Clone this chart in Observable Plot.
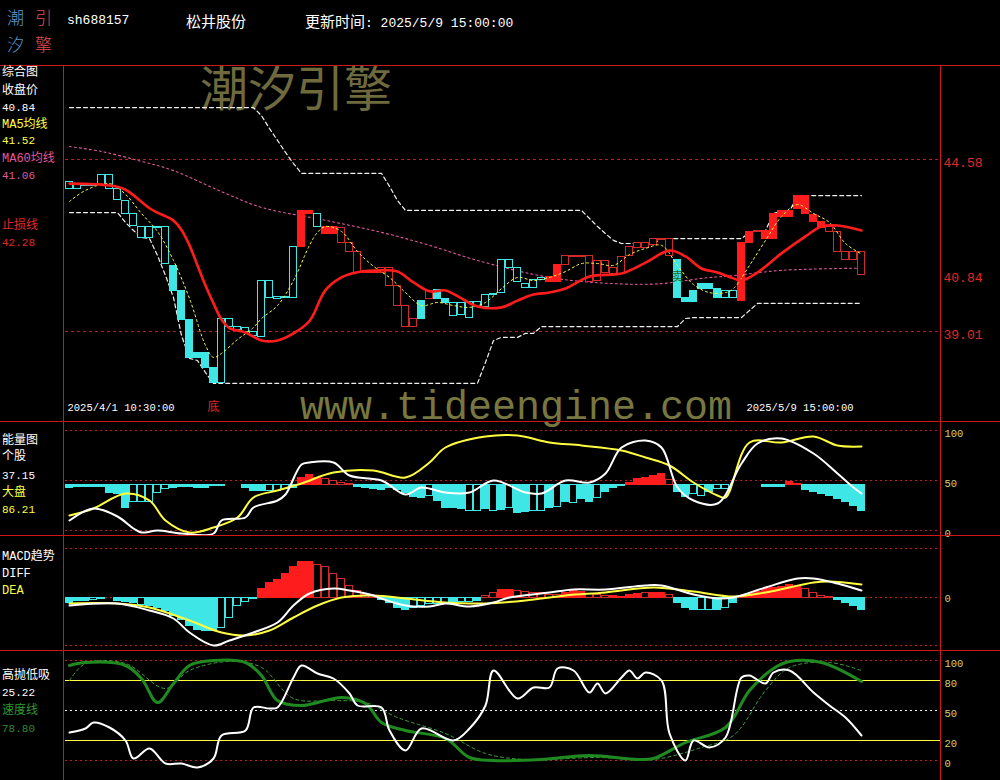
<!DOCTYPE html>
<html><head><meta charset="utf-8"><title>松井股份</title>
<script src="https://cdn.jsdelivr.net/npm/d3@7"></script>
<script src="https://cdn.jsdelivr.net/npm/@observablehq/plot@0.6"></script>
<style>
html,body{margin:0;padding:0;background:#000;}
#wrap{position:relative;width:1000px;height:780px;background:#000;overflow:hidden;}
.t{position:absolute;white-space:nowrap;font-family:"Liberation Mono","Noto Sans CJK SC",monospace;}
.pnl{position:absolute;left:0;}
.pnl svg{display:block;}
.hl{position:absolute;left:0;width:1000px;height:1px;background:#cc1818;}
.vl{position:absolute;top:65px;width:1px;height:715px;background:#cc1818;}
</style></head>
<body><div id="wrap"></div>
<script>
// ---------------- DATA ----------------
// 60-minute bars, 2025/4/1 10:30 .. 2025/5/9 15:00 (100 bars), body top/bottom prices
const bodyHigh = [43.84,43.80,43.80,43.80,44.09,44.09,43.61,43.25,42.80,42.38,
42.38,42.38,42.38,41.12,40.31,39.37,38.30,38.30,37.84,39.43,
39.43,39.14,39.11,38.98,40.66,40.66,40.14,40.14,41.73,42.90,
42.90,42.80,42.38,42.38,42.35,41.86,41.57,40.95,40.95,41.08,
41.08,40.47,39.82,39.43,40.01,40.31,40.34,40.05,39.92,39.92,
39.95,39.98,40.18,40.24,41.31,41.31,41.05,40.56,40.69,40.73,
40.76,41.15,41.44,41.44,41.44,41.47,41.28,41.28,41.05,41.41,
41.73,41.86,41.89,41.99,42.02,42.02,41.34,40.08,40.31,40.56,
40.56,40.37,40.31,40.31,41.86,42.22,42.28,42.28,42.83,42.90,
42.90,43.41,43.41,42.77,42.54,42.41,42.22,41.57,41.57,41.57];
const bodyLow = [43.64,43.61,43.71,43.71,43.77,43.64,43.28,42.83,42.44,42.05,
42.05,42.35,41.18,40.31,39.37,38.14,38.14,37.84,37.33,37.33,
39.14,39.07,38.98,38.85,38.82,40.08,40.05,40.11,40.11,41.76,
42.83,42.38,42.18,42.18,41.89,41.57,40.89,40.89,40.92,40.92,
40.47,39.82,39.17,39.17,39.43,40.05,40.05,39.92,39.50,39.53,
39.46,39.79,39.79,40.18,40.27,41.08,40.60,40.43,40.43,40.69,
40.60,40.60,41.15,41.41,41.41,40.60,40.63,40.89,40.86,40.86,
41.47,41.70,41.70,41.80,41.96,41.44,40.08,39.95,39.95,40.37,
40.40,40.11,40.11,40.08,40.01,41.86,42.22,42.02,42.02,42.73,
42.73,42.99,42.80,42.54,42.35,42.22,41.57,41.31,41.31,40.84];
// trend state of each bar: R = 多 (red), C = 空 (cyan)
const barSide = ("CCCCCCCCCC"+"CCCCCCCCCC"+"CCCCCCCCCR"+"RCRRRRRRRR"+"RRRRCRCCCC"+
"CCCCCCCCCC"+"RRRRRRRRRR"+"RRRRRRCCCC"+"CCCCRRRRRR"+"RRRRRRRRRR").split("");
const barSolid = ("0000000000"+"0001111110"+"0000000001"+"1011000110"+"0000101100"+
"0000000000"+"1100000000"+"0000001111"+"1100110111"+"1111100000").split("").map(Number);

// main-panel indicator lines (bar index, price)
const stopIdx = [0,5,7,10,11,13,14,15,16,17,18,19,20,22,24,26,28,30,32,34,36,39,41,43,45,47,49,51,54,56,58,60,62,65,69,72,75,77,79,81,83,84,86,89,92,94,96,99];
const stopVal = [43.80,43.74,43.60,43.00,42.86,42.60,42.30,41.80,41.15,40.50,39.92,39.40,39.12,38.98,38.72,38.72,38.95,39.35,40.35,40.76,40.93,40.99,40.95,40.60,40.31,40.34,40.08,39.82,39.79,40.01,40.21,40.27,40.40,40.79,40.89,41.24,41.63,41.44,41.05,40.92,40.73,40.66,40.92,41.54,42.09,42.41,42.44,42.28];
const ma60Idx = [0,4,9,13,19,24,32,39,45,51,60,68,74,79,83,89,99];
const ma60Val = [45.00,44.84,44.52,44.22,43.54,43.03,42.61,42.22,41.80,41.31,40.76,40.56,40.56,40.73,40.82,40.99,41.06];
const ma5Idx = [0,2,5,7,9,11,13,15,17,18,19,21,23,24,26,28,30,31,32,34,36,38,40,42,44,46,48,50,52,54,56,58,60,62,64,66,68,70,72,74,76,78,80,82,83,85,87,89,91,93,95,97,99];
const ma5Val = [43.22,43.58,43.80,43.45,42.83,42.25,41.31,40.08,38.56,38.17,38.30,38.75,39.14,39.43,39.85,40.66,41.80,42.22,42.41,42.25,41.60,41.12,40.76,40.27,39.85,39.95,39.85,39.79,39.95,40.40,40.76,40.66,40.76,40.95,41.21,41.21,41.15,41.50,41.70,41.80,41.15,40.53,40.27,40.27,40.40,41.15,41.96,42.73,43.12,42.83,42.54,41.86,41.52];
const upIdx = [0,23,24,25,26,27,28,29,39,40,41,42,64,65,66,67,68,69,73,74,84,85,86,87,88,89,90,91,99];
const upVal = [46.26,46.26,46.00,45.58,45.20,44.81,44.45,44.13,44.13,43.71,43.25,42.93,42.93,42.67,42.41,42.18,41.96,41.86,41.86,42.02,42.02,42.22,42.28,42.28,42.83,42.90,42.90,43.41,43.41];
const lowIdx = [0,6,7,8,9,10,11,12,13,14,15,16,17,18,51,52,53,54,56,57,58,59,76,77,78,84,85,86,99];
const lowVal = [42.86,42.86,42.54,42.28,42.05,42.02,41.47,40.82,40.11,38.88,38.14,38.07,37.68,37.33,37.33,38.01,38.72,38.82,38.82,38.95,38.95,39.17,39.17,39.43,39.46,39.46,39.69,39.92,39.92];
const priceTicks = [44.58, 40.84, 39.01];
const priceGuides = [44.58, 39.01];

// 能量图
const energyBar = [-3,-2,-2,-2,-2,-8,-9,-23,-17,-17,
-17,-8,-4,-3,-2,-2,-3,-3,-1,-1,
0,0,-3,-6,-6,-6,-6,-4,-3,7,
10,7,6,4,2,1,-2,-3,-4,-5,
-3,-5,-8,-12,-13,-11,-16,-23,-23,-24,
-26,-26,-24,-26,-25,-23,-28,-27,-26,-26,
-23,-22,-17,-18,-14,-17,-13,-7,-3,-1,
2,6,7,9,11,5,-7,-12,-9,-11,
-7,-4,-4,0,0,0,0,-2,-2,-2,
3,1,-5,-7,-9,-11,-14,-17,-21,-26];
const energySolid = ("1111111100"+"0001111111"+"1111100011"+"1100001111"+"1111101111"+
"0010101100"+"1010110111"+"1111101100"+"1001111111"+"1111111111").split("").map(Number);
const energyBase = 46;
const stockIdx = [0,3,6,8,9,11,14,18,19,22,23,26,27,29,30,33,35,39,42,44,47,50,53,57,59,62,65,67,69,72,74,76,78,81,84,86,89,93,96,98,99];
const stockVal = [10,22,14,2,-2,0,-3,-3,10,13,23,30,36,66,68,68,55,50,36,43,38,38,50,38,37,50,48,57,83,90,83,43,30,27,67,87,92,77,57,43,37];
const marketIdx = [0,3,7,10,12,15,18,21,23,26,29,33,38,42,45,47,52,56,60,64,69,72,75,78,81,82,85,89,93,96,99];
const marketVal = [15,22,37,30,10,-2,3,13,33,40,47,58,60,53,68,83,94,95,88,85,80,73,65,48,35,33,88,88,94,85,84];
const energyTicks = [100, 50, 0];

// MACD趋势
const macdBar = [-5,-3,-3,-2,-1,0,-3,-4,-5,-7,
-8,-10,-13,-18,-22,-28,-32,-33,-33,-30,
-20,-8,-4,-1,9,15,18,24,31,36,
36,33,31,24,19,12,7,3,2,-2,
-5,-10,-12,-10,-8,-6,-6,-5,-5,-4,
-4,-3,2,5,8,8,7,6,5,5,
3,3,5,7,6,4,3,2,2,1,
3,4,5,5,5,3,-5,-10,-12,-12,
-12,-12,-10,-5,1,4,6,9,10,11,
13,11,9,5,2,1,-2,-5,-8,-12];
const macdSolid = ("1110001110"+"1111111110"+"0000111111"+"1000000001"+"1110000010"+
"0100110000"+"0011100011"+"1101101110"+"0101011111"+"1100001111").split("").map(Number);
const diffIdx = [0,6,10,13,15,18,20,23,26,28,30,33,35,38,39,42,45,47,50,53,55,60,63,67,72,74,78,81,83,87,91,93,96,99];
const diffVal = [-8,-6,-13,-21,-35,-48,-43,-35,-25,-8,4,9,7,2,-1,-8,-9,-6,-9,-5,0,5,8,8,12,12,3,-1,0,10,19,19,14,7];
const deaIdx = [0,6,10,15,19,22,25,28,31,34,38,42,47,52,57,62,67,73,78,83,87,93,95,99];
const deaVal = [-6,-6,-10,-23,-35,-38,-33,-20,-8,0,2,-1,-5,-6,-3,2,5,10,6,1,5,15,16,13];
const macdGuides = [49, 0, -48];

// 高抛低吸
const swingIdx = [0,2,3,5,7,8,10,12,14,16,18,19,22,23,25,26,28,29,31,33,35,36,39,40,42,44,48,50,52,53,56,58,60,61,63,65,66,67,69,70,71,72,74,75,77,78,80,82,84,85,87,88,90,93,95,97,99];
const swingVal = [28,32,38,33,20,2,12,-3,-3,-7,2,25,30,53,52,53,83,95,87,82,67,55,53,30,10,32,20,32,55,90,62,73,73,92,90,68,77,67,83,90,82,88,80,27,0,20,13,23,83,85,77,88,90,68,55,43,25];
const speedIdx = [0,2,7,9,11,13,15,18,22,24,26,29,32,34,37,39,42,47,50,53,59,65,71,73,77,82,85,88,90,94,99];
const speedVal = [95,98,95,82,58,77,95,100,98,85,60,55,60,63,57,38,30,22,3,0,1,5,1,2,18,33,70,92,99,98,79];
const speedSigIdx = [0,2,7,12,15,20,24,28,33,37,41,47,52,57,66,73,79,83,87,90,95,99];
const speedSigVal = [80,97,97,72,90,99,93,62,60,58,43,27,7,1,3,1,13,25,70,93,98,90];
const swingTicks = [100, 80, 50, 20, 0];

// text
const headerCode = "sh688157", headerName = "松井股份", headerTime = "2025/5/9 15:00:00";
const dateLabels = [{i: 0, t: "2025/4/1 10:30:00", a: "start"}, {i: 99, t: "2025/5/9 15:00:00", a: "end"}];
const bottomMark = [{i: 18, t: "底"}];
const sellMark = [{i: 76, v: 40.78, t: "卖"}];

// ---------------- COLOURS ----------------
const RED = "#ff1c1c", REDH = "#d22a2a", CYAN = "#3ee6e6", YEL = "#ffff40", PINK = "#e0589e",
      GRID = "#c41c1c", TICK = "#d6d070", GREEN = "#1f8a1f", GREEN2 = "#3fa03f";

// ---------------- LAYOUT HELPERS ----------------
const wrap = document.getElementById("wrap");
function txt(s, x, yc, color, size, extra) {
  const d = document.createElement("div");
  d.className = "t";
  d.textContent = s;
  d.style.left = x + "px";
  d.style.top = (yc - size / 2) + "px";
  d.style.fontSize = size + "px";
  d.style.lineHeight = size + "px";
  d.style.color = color;
  if (extra) Object.assign(d.style, extra);
  wrap.appendChild(d);
  return d;
}
const zip = (idx, val) => idx.map((i, k) => ({i, v: val[k]}));
const X = {type: "linear", domain: [-0.5, 108.875], axis: null};
function panel(top, height, ydomain, marks) {
  const p = Plot.plot({
    width: 1000, height, marginLeft: 65, marginRight: 60, marginTop: 0, marginBottom: 0,
    x: X, y: {domain: ydomain, axis: null}, color: {type: "identity"},
    style: {background: "transparent", overflow: "visible"},
    marks
  });
  const d = document.createElement("div");
  d.className = "pnl";
  d.style.top = top + "px";
  d.appendChild(p);
  wrap.appendChild(d);
}
const FONT = "Liberation Mono, Noto Sans CJK SC, monospace";

// ---------------- WATERMARK & HEADER ----------------
txt("潮汐引擎", 200, 85, "#6e6a3e", 48, {fontFamily: "Noto Sans CJK SC"});
txt("www.tideengine.com", 300, 409, "#77773f", 40, {fontFamily: "Liberation Mono"});

const LOGO = {fontFamily: "Noto Sans CJK SC", fontWeight: 300};
txt("潮", 7, 16, "#5a9ad2", 17, LOGO);
txt("引", 35, 16, "#e05050", 17, LOGO);
txt("汐", 7, 43, "#5a9ad2", 17, LOGO);
txt("擎", 35, 43, "#e05050", 17, LOGO);
txt(headerCode, 67, 20, "#fff", 13);
txt(headerName, 186, 20, "#fff", 15, {fontFamily: "Noto Sans CJK SC"});
const ht = txt("", 305, 20, "#fff", 13);
ht.innerHTML = '<span style="font-family:Noto Sans CJK SC;font-size:15px">更新时间</span>: ' + headerTime;

// ---------------- MAIN PANEL ----------------
const candles = d3.range(100).map(i => ({i, hi: bodyHigh[i], lo: bodyLow[i], side: barSide[i], solid: barSolid[i]}));
panel(65, 356, [36.095, 47.624], [
  Plot.ruleY(priceGuides, {stroke: GRID, strokeDasharray: "3,3"}),
  Plot.line(zip(ma60Idx, ma60Val), {x: "i", y: "v", stroke: PINK, strokeWidth: 1.1, strokeDasharray: "2,3", curve: "catmull-rom"}),
  Plot.line(zip(upIdx, upVal), {x: "i", y: "v", stroke: "#f0f0f0", strokeWidth: 1.2, strokeDasharray: "4,3"}),
  Plot.line(zip(lowIdx, lowVal), {x: "i", y: "v", stroke: "#f0f0f0", strokeWidth: 1.2, strokeDasharray: "4,3"}),
  Plot.rect(candles, {
    x1: d => d.i - 0.4, x2: d => d.i + 0.4, y1: "lo", y2: "hi",
    fill: d => d.solid ? (d.side === "R" ? RED : CYAN) : "#000",
    stroke: d => d.side === "R" ? (d.solid ? RED : REDH) : CYAN,
    strokeWidth: 1, shapeRendering: "crispEdges"
  }),
  Plot.line(zip(ma5Idx, ma5Val), {x: "i", y: "v", stroke: YEL, strokeWidth: 1, strokeDasharray: "2,3", curve: "catmull-rom"}),
  Plot.line(zip(stopIdx, stopVal), {x: "i", y: "v", stroke: RED, strokeWidth: 2.6, curve: "catmull-rom"}),
  Plot.text(sellMark, {x: "i", y: "v", text: "t", fill: "#1f6a1f", fontSize: 12, fontFamily: "Noto Sans CJK SC"}),
  Plot.text(priceTicks, {y: d => d, frameAnchor: "right", textAnchor: "start", dx: 3, dy: 3, fill: "#e02828", fontSize: 13, fontFamily: FONT}),
  Plot.text(dateLabels.filter(d => d.a === "start"), {x: "i", text: "t", frameAnchor: "bottom", dy: -11, dx: -2, textAnchor: "start", fill: "#fff", fontSize: 10.5, fontFamily: FONT}),
  Plot.text(dateLabels.filter(d => d.a === "end"), {x: "i", text: "t", frameAnchor: "bottom", dy: -11, dx: -8, textAnchor: "end", fill: "#fff", fontSize: 10.5, fontFamily: FONT}),
  Plot.text(bottomMark, {x: "i", text: "t", frameAnchor: "bottom", dy: -11, fill: "#e02828", fontSize: 12, fontFamily: "Noto Sans CJK SC"})
]);

// ---------------- ENERGY PANEL ----------------
const ebars = energyBar.map((v, i) => ({i, v, solid: energySolid[i]})).filter(d => d.v !== 0);
panel(421, 114, [-5, 109], [
  Plot.ruleY(energyTicks, {stroke: GRID, strokeDasharray: "2,3"}),
  Plot.rect(ebars, {
    x1: d => d.i - 0.4, x2: d => d.i + 0.4, y1: () => energyBase, y2: d => energyBase + d.v,
    fill: d => d.solid ? (d.v > 0 ? RED : CYAN) : "#000",
    stroke: d => d.v > 0 ? (d.solid ? RED : REDH) : CYAN, strokeWidth: 1, shapeRendering: "crispEdges"
  }),
  Plot.line(zip(marketIdx, marketVal), {x: "i", y: "v", stroke: YEL, strokeWidth: 2, curve: "catmull-rom"}),
  Plot.line(zip(stockIdx, stockVal), {x: "i", y: "v", stroke: "#fff", strokeWidth: 2, curve: "catmull-rom"}),
  Plot.text(energyTicks, {y: d => d, text: d => String(d), frameAnchor: "right", textAnchor: "start", dx: 4, dy: 3, fill: TICK, fontSize: 10.5, fontFamily: FONT})
]);

// ---------------- MACD PANEL ----------------
const mbars = macdBar.map((v, i) => ({i, v, solid: macdSolid[i]})).filter(d => d.v !== 0);
panel(535, 115, [-53, 62], [
  Plot.ruleY(macdGuides, {stroke: GRID, strokeDasharray: "2,3"}),
  Plot.rect(mbars, {
    x1: d => d.i - 0.4, x2: d => d.i + 0.4, y1: () => 0, y2: "v",
    fill: d => d.solid ? (d.v > 0 ? RED : CYAN) : "#000",
    stroke: d => d.v > 0 ? (d.solid ? RED : REDH) : CYAN, strokeWidth: 1, shapeRendering: "crispEdges"
  }),
  Plot.line(zip(deaIdx, deaVal), {x: "i", y: "v", stroke: YEL, strokeWidth: 2, curve: "catmull-rom"}),
  Plot.line(zip(diffIdx, diffVal), {x: "i", y: "v", stroke: "#fff", strokeWidth: 2, curve: "catmull-rom"}),
  Plot.text([0], {y: d => d, text: d => String(d), frameAnchor: "right", textAnchor: "start", dx: 4, dy: 1, fill: TICK, fontSize: 10.5, fontFamily: FONT})
]);

// ---------------- 高抛低吸 PANEL ----------------
panel(650, 130, [-20, 110], [
  Plot.ruleY([100, 0], {stroke: GRID, strokeDasharray: "2,3"}),
  Plot.ruleY([50], {stroke: "#eee", strokeDasharray: "2,3"}),
  Plot.ruleY([80, 20], {stroke: YEL, strokeWidth: 1}),
  Plot.line(zip(speedSigIdx, speedSigVal), {x: "i", y: "v", stroke: GREEN2, strokeWidth: 1, strokeDasharray: "3,3", curve: "catmull-rom"}),
  Plot.line(zip(speedIdx, speedVal), {x: "i", y: "v", stroke: GREEN, strokeWidth: 3, curve: "catmull-rom"}),
  Plot.line(zip(swingIdx, swingVal), {x: "i", y: "v", stroke: "#fff", strokeWidth: 2, curve: "catmull-rom"}),
  Plot.text(swingTicks, {y: d => d, text: d => String(d), frameAnchor: "right", textAnchor: "start", dx: 4, dy: 3, fill: TICK, fontSize: 10.5, fontFamily: FONT})
]);

// ---------------- FRAME ----------------
[65, 421, 535, 650].forEach(y => { const d = document.createElement("div"); d.className = "hl"; d.style.top = y + "px"; wrap.appendChild(d); });
[63, 940].forEach(x => { const d = document.createElement("div"); d.className = "vl"; d.style.left = x + "px"; wrap.appendChild(d); });

// ---------------- LEFT LEGENDS ----------------
const legends = [
  ["综合图", 73, "#fff"], ["收盘价", 91, "#fff"], ["40.84", 108, "#fff"],
  ["MA5均线", 125, YEL], ["41.52", 141, YEL], ["MA60均线", 159, PINK], ["41.06", 176, PINK],
  ["止损线", 226, "#e02828"], ["42.28", 243, "#e02828"],
  ["能量图", 441, "#fff"], ["个股", 457, "#fff"], ["37.15", 476, "#fff"], ["大盘", 493, YEL], ["86.21", 510, YEL],
  ["MACD趋势", 557, "#fff"], ["DIFF", 574, "#fff"], ["DEA", 591, YEL],
  ["高抛低吸", 676, "#fff"], ["25.22", 693, "#fff"], ["速度线", 711, "#2f9a2f"], ["78.80", 729, "#2f8a2f"]
];
legends.forEach(([s, y, c]) => txt(s, 2, y, c, /^[0-9.]+$/.test(s) ? 11 : 12));
</script></body></html>
